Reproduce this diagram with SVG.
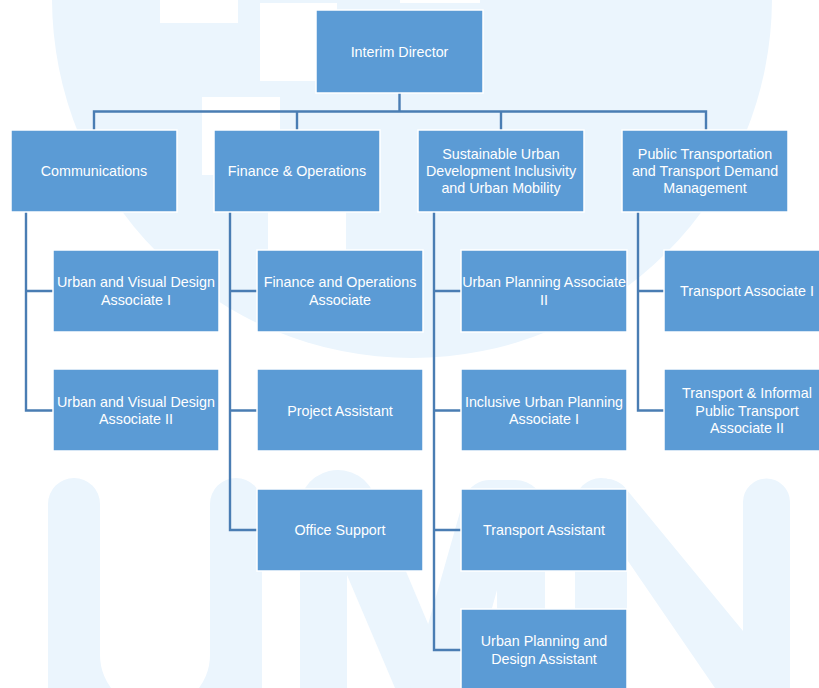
<svg xmlns="http://www.w3.org/2000/svg" width="819" height="688" viewBox="0 0 819 688">
<style>
.wm{fill:#EBF5FD}
.cut{fill:#FFFFFF}
.node rect{fill:#5B9BD5;stroke:#FFFFFF;stroke-width:1.5}
.node text{font-family:"Liberation Sans",Arial,sans-serif;font-size:14.3px;fill:#FFFFFF;text-anchor:middle}
.conn path{fill:none;stroke:#4A7DB3;stroke-width:2.4}
</style>
<rect x="0" y="0" width="819" height="688" fill="#FFFFFF"/>
<g id="watermark">
<circle class="wm" cx="412" cy="-2" r="360"/>
<rect class="cut" x="160" y="0" width="78" height="23"/>
<rect class="cut" x="260" y="3" width="77" height="78"/>
<rect class="cut" x="400" y="0" width="80" height="3"/>
<rect class="cut" x="202" y="97" width="78" height="78"/>
<rect class="cut" x="268" y="200" width="78" height="50"/>
<path class="wm" d="M48,688V504A26,26 0 0 1 100,504V655A55,55 0 0 0 210,655V504A26,26 0 0 1 262,504V688Z"/>
<path class="wm" d="M300,688V518A38,38 0 0 1 376,500L455,688H395L347,575V688Z"/>
<path class="wm" d="M545,688V510A30,30 0 0 0 515,480H492A28,28 0 0 0 464,498L410,688H470L497,590V688Z"/>
<path class="wm" d="M575,688V504A26,26 0 0 1 627,504V688Z"/>
<path class="wm" d="M582,494A26,26 0 0 1 627,490L790,688H715Z"/>
<path class="wm" d="M743,688V502A23.5,23.5 0 0 1 790,502V688Z"/>
</g>
<g id="connectors" class="conn">
<path d="M399.5,93V111.5M94,130V111.5H706V130M297,111.5V130M501,111.5V130"/>
<path d="M26,212V410.5H53M26,291H53"/>
<path d="M230,212V530H257M230,291H257M230,410.5H257"/>
<path d="M434,212V650H461M434,291H461M434,410.5H461M434,530H461"/>
<path d="M638,212V410.5H664M638,291H664"/>
</g>
<g id="n-director" class="node"><rect x="316" y="10" width="167" height="83"/><text x="399.5" y="56.5">Interim Director</text></g>
<g id="n-communications" class="node"><rect x="11" y="130" width="166" height="82"/><text x="94" y="176">Communications</text></g>
<g id="n-finance" class="node"><rect x="214" y="130" width="166" height="82"/><text x="297" y="176">Finance &amp; Operations</text></g>
<g id="n-sustainable" class="node"><rect x="418" y="130" width="166" height="82"/><text x="501" y="159">Sustainable Urban</text><text x="501" y="176">Development Inclusivity</text><text x="501" y="193">and Urban Mobility</text></g>
<g id="n-public" class="node"><rect x="622" y="130" width="166" height="82"/><text x="705" y="159">Public Transportation</text><text x="705" y="176">and Transport Demand</text><text x="705" y="193">Management</text></g>
<g id="n-uvd1" class="node"><rect x="53" y="250" width="166" height="82"/><text x="136" y="287">Urban and Visual Design</text><text x="136" y="304.5">Associate I</text></g>
<g id="n-uvd2" class="node"><rect x="53" y="369" width="166" height="82"/><text x="136" y="406.5">Urban and Visual Design</text><text x="136" y="424">Associate II</text></g>
<g id="n-foa" class="node"><rect x="257" y="250" width="166" height="82"/><text x="340" y="287">Finance and Operations</text><text x="340" y="304.5">Associate</text></g>
<g id="n-pa" class="node"><rect x="257" y="369" width="166" height="82"/><text x="340" y="415.5">Project Assistant</text></g>
<g id="n-os" class="node"><rect x="257" y="489" width="166" height="82"/><text x="340" y="535">Office Support</text></g>
<g id="n-upa2" class="node"><rect x="461" y="250" width="166" height="82"/><text x="544" y="287">Urban Planning Associate</text><text x="544" y="304.5">II</text></g>
<g id="n-iupa1" class="node"><rect x="461" y="369" width="166" height="82"/><text x="544" y="406.5">Inclusive Urban Planning</text><text x="544" y="424">Associate I</text></g>
<g id="n-ta" class="node"><rect x="461" y="489" width="166" height="82"/><text x="544" y="535">Transport Assistant</text></g>
<g id="n-upda" class="node"><rect x="461" y="609" width="166" height="82"/><text x="544" y="646">Urban Planning and</text><text x="544" y="663.5">Design Assistant</text></g>
<g id="n-ta1" class="node"><rect x="664" y="250" width="166" height="82"/><text x="747" y="296">Transport Associate I</text></g>
<g id="n-tipta2" class="node"><rect x="664" y="369" width="166" height="82"/><text x="747" y="398">Transport &amp; Informal</text><text x="747" y="415.5">Public Transport</text><text x="747" y="433">Associate II</text></g>
</svg>
